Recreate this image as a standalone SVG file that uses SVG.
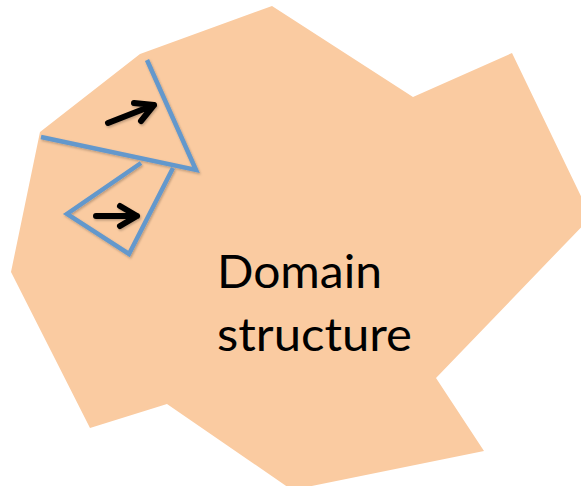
<svg xmlns="http://www.w3.org/2000/svg" width="581" height="486" viewBox="0 0 581 486">
  <style>
    .domain { fill: #FACBA1; stroke: none; }
    .wall { fill: none; stroke: #6498CC; stroke-width: 4.5; stroke-linejoin: miter; stroke-linecap: butt; }
    .moment { fill: none; stroke: #000000; stroke-width: 6; stroke-linecap: round; stroke-linejoin: round; }
    .label { font-family: Lato, "Open Sans", "Liberation Sans", sans-serif; font-size: 47px; fill: #000000; }
  </style>
  <defs>
    <filter id="soft" x="-10%" y="-10%" width="120%" height="120%">
      <feDropShadow dx="1" dy="1.5" stdDeviation="1.2" flood-color="#000000" flood-opacity="0.25"/>
    </filter>
  </defs>

  <!-- ferromagnetic region -->
  <g id="domain-region">
    <polygon class="domain" points="272,6 413,97 512,53 591,217 436,378 484,451 292,490 167,404 90,428 11,272 40,132 140,54"/>
  </g>

  <!-- domain walls -->
  <g id="walls" filter="url(#soft)">
    <polyline class="wall" points="147,60 196,170 41,137"/>
    <polyline class="wall" points="141,163 67,214 129,254 173,168"/>
  </g>

  <!-- magnetisation arrows -->
  <g id="moments" filter="url(#soft)">
    <g id="moment-upper">
      <path class="moment" d="M108,123 L154,105 M134,103 L154,105 L141,121"/>
    </g>
    <g id="moment-lower">
      <path class="moment" d="M96,216 L137,216 M120,206 L137,216 L120,226"/>
    </g>
  </g>

  <g id="caption">
    <text class="label" x="217" y="288" textLength="165" lengthAdjust="spacingAndGlyphs">Domain</text>
    <text class="label" x="217" y="351" textLength="195" lengthAdjust="spacingAndGlyphs">structure</text>
  </g>
</svg>
